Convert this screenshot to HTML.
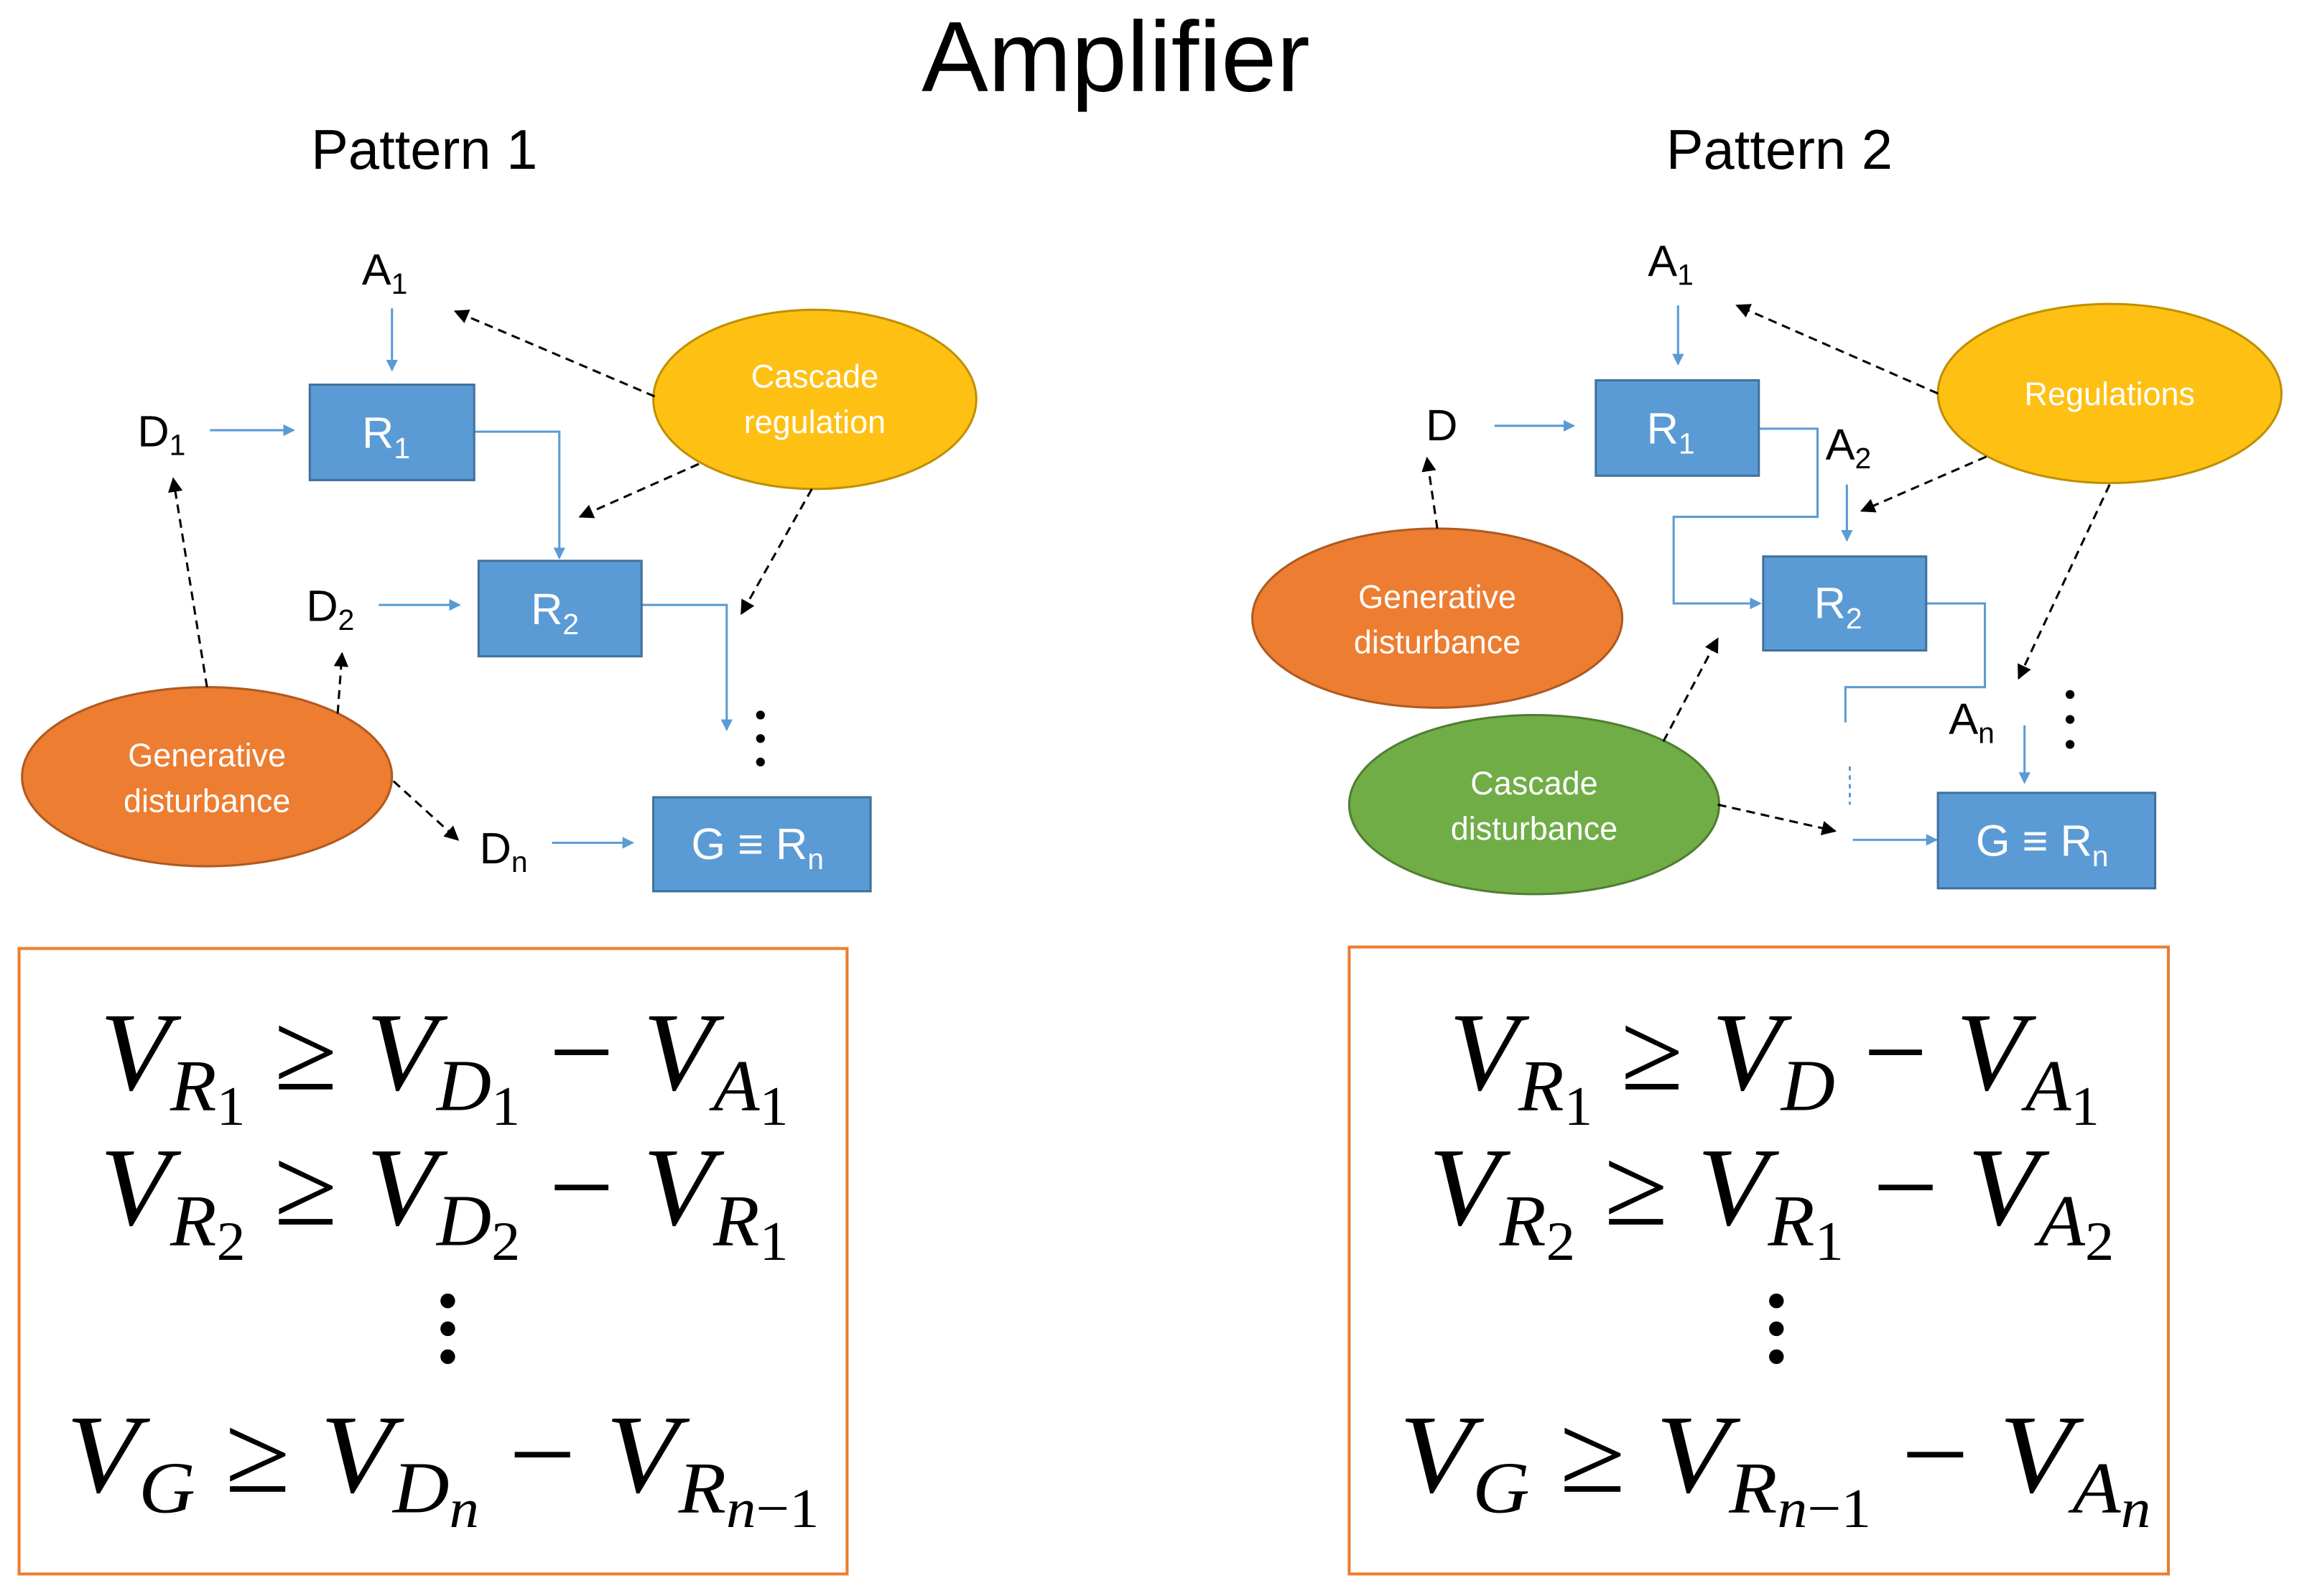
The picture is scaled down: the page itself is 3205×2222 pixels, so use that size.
<!DOCTYPE html>
<html><head><meta charset="utf-8"><style>
html,body{margin:0;padding:0;background:#fff;}
svg{display:block;}
.t{font-family:"Liberation Sans",sans-serif;}
.m{font-family:"Liberation Serif",serif;font-style:italic;}
</style></head><body>
<svg width="3205" height="2222" viewBox="0 0 1568 1087" preserveAspectRatio="none" xmlns="http://www.w3.org/2000/svg">
<defs>
<marker id="bl" markerWidth="8" markerHeight="8" refX="7" refY="4" orient="auto" markerUnits="userSpaceOnUse"><path d="M0,0 L8,4 L0,8 z" fill="#5B9BD5"/></marker>
<marker id="bk" markerWidth="10" markerHeight="10" refX="9" refY="5" orient="auto" markerUnits="userSpaceOnUse"><path d="M0,0 L10,5 L0,10 z" fill="#000"/></marker>
</defs>
<g class="t" text-anchor="middle">
<text x="760" y="62" font-size="68">Amplifier</text>
<text x="289" y="115" font-size="38">Pattern 1</text>
<text x="1212" y="115" font-size="38">Pattern 2</text>
</g>

<!-- LEFT -->
<g fill="none" stroke="#5B9BD5" stroke-width="1.5">
<line x1="267" y1="210" x2="267" y2="252" marker-end="url(#bl)"/>
<line x1="143" y1="293" x2="200" y2="293" marker-end="url(#bl)"/>
<polyline points="323,294 381,294 381,380" marker-end="url(#bl)"/>
<line x1="258" y1="412" x2="313" y2="412" marker-end="url(#bl)"/>
<polyline points="437,412 495,412 495,497" marker-end="url(#bl)"/>
<line x1="376" y1="574" x2="431" y2="574" marker-end="url(#bl)"/>
</g>
<g fill="#5B9BD5" stroke="#41719C" stroke-width="1.5">
<rect x="211" y="262" width="112" height="65"/>
<rect x="326" y="382" width="111" height="65"/>
<rect x="445" y="543" width="148" height="64"/>
</g>
<ellipse cx="555" cy="272" rx="110" ry="61" fill="#FFC014" stroke="#BF9000" stroke-width="1.5"/>
<ellipse cx="141" cy="529" rx="126" ry="61" fill="#ED7D31" stroke="#AE5A21" stroke-width="1.5"/>
<g fill="none" stroke="#000" stroke-width="1.5" stroke-dasharray="6,4">
<line x1="446" y1="270" x2="310" y2="212" marker-end="url(#bk)"/>
<line x1="476" y1="316" x2="395" y2="352" marker-end="url(#bk)"/>
<line x1="553" y1="333" x2="505" y2="418" marker-end="url(#bk)"/>
<line x1="141" y1="468" x2="118" y2="326" marker-end="url(#bk)"/>
<line x1="230" y1="486" x2="233" y2="445" marker-end="url(#bk)"/>
<line x1="268" y1="532" x2="312" y2="572" marker-end="url(#bk)"/>
</g>
<g fill="#000"><circle cx="518" cy="487" r="3"/><circle cx="518" cy="503" r="3"/><circle cx="518" cy="519" r="3"/></g>
<g class="t" font-size="30" text-anchor="middle">
<text x="262" y="194">A<tspan font-size="20" dy="6">1</tspan></text>
<text x="110" y="304">D<tspan font-size="20" dy="6">1</tspan></text>
<text x="225" y="423">D<tspan font-size="20" dy="6">2</tspan></text>
<text x="343" y="588">D<tspan font-size="20" dy="6">n</tspan></text>
<text x="263" y="305" fill="#fff">R<tspan font-size="20" dy="7">1</tspan></text>
<text x="378" y="425" fill="#fff">R<tspan font-size="20" dy="7">2</tspan></text>
<text x="516" y="585" fill="#fff">G ≡ R<tspan font-size="20" dy="7">n</tspan></text>
</g>
<g class="t" font-size="22" fill="#fff" text-anchor="middle">
<text x="555" y="264">Cascade</text><text x="555" y="295">regulation</text>
<text x="141" y="522">Generative</text><text x="141" y="553">disturbance</text>
</g>
<rect x="13" y="646" width="564" height="426" fill="none" stroke="#ED7D31" stroke-width="2"/>
<g class="m" font-size="76">
<text x="68" y="742" textLength="469" lengthAdjust="spacingAndGlyphs">V<tspan font-size="50" dy="14">R</tspan><tspan font-size="38" font-style="normal" dy="10">1</tspan><tspan font-style="normal" dy="-24"> ≥ </tspan>V<tspan font-size="50" dy="14">D</tspan><tspan font-size="38" font-style="normal" dy="10">1</tspan><tspan font-style="normal" dy="-24"> − </tspan>V<tspan font-size="50" dy="14">A</tspan><tspan font-size="38" font-style="normal" dy="10">1</tspan></text>
<text x="68" y="834" textLength="469" lengthAdjust="spacingAndGlyphs">V<tspan font-size="50" dy="14">R</tspan><tspan font-size="38" font-style="normal" dy="10">2</tspan><tspan font-style="normal" dy="-24"> ≥ </tspan>V<tspan font-size="50" dy="14">D</tspan><tspan font-size="38" font-style="normal" dy="10">2</tspan><tspan font-style="normal" dy="-24"> − </tspan>V<tspan font-size="50" dy="14">R</tspan><tspan font-size="38" font-style="normal" dy="10">1</tspan></text>
<text x="45" y="1016" textLength="513" lengthAdjust="spacingAndGlyphs">V<tspan font-size="50" dy="14">G</tspan><tspan font-style="normal" dy="-14"> ≥ </tspan>V<tspan font-size="50" dy="14">D</tspan><tspan font-size="38" dy="10">n</tspan><tspan font-style="normal" dy="-24"> − </tspan>V<tspan font-size="50" dy="14">R</tspan><tspan font-size="38" dy="10">n</tspan><tspan font-size="38" font-style="normal">−1</tspan></text>
</g>
<g fill="#000"><circle cx="305" cy="886" r="5"/><circle cx="305" cy="905" r="5"/><circle cx="305" cy="924" r="5"/></g>

<!-- RIGHT -->
<g fill="none" stroke="#5B9BD5" stroke-width="1.5">
<line x1="1143" y1="208" x2="1143" y2="248" marker-end="url(#bl)"/>
<line x1="1018" y1="290" x2="1072" y2="290" marker-end="url(#bl)"/>
<line x1="1258" y1="330" x2="1258" y2="368" marker-end="url(#bl)"/>
<polyline points="1198,292 1238,292 1238,352 1140,352 1140,411 1199,411" marker-end="url(#bl)"/>
<polyline points="1312,411 1352,411 1352,468 1257,468 1257,492"/>
<line x1="1260" y1="522" x2="1260" y2="548" stroke-dasharray="3,3"/>
<line x1="1262" y1="572" x2="1319" y2="572" marker-end="url(#bl)"/>
<line x1="1379" y1="494" x2="1379" y2="533" marker-end="url(#bl)"/>
</g>
<g fill="#5B9BD5" stroke="#41719C" stroke-width="1.5">
<rect x="1087" y="259" width="111" height="65"/>
<rect x="1201" y="379" width="111" height="64"/>
<rect x="1320" y="540" width="148" height="65"/>
</g>
<ellipse cx="1437" cy="268" rx="117" ry="61" fill="#FFC014" stroke="#BF9000" stroke-width="1.5"/>
<ellipse cx="979" cy="421" rx="126" ry="61" fill="#ED7D31" stroke="#AE5A21" stroke-width="1.5"/>
<ellipse cx="1045" cy="548" rx="126" ry="61" fill="#70AD47" stroke="#507E32" stroke-width="1.5"/>
<g fill="none" stroke="#000" stroke-width="1.5" stroke-dasharray="6,4">
<line x1="1320" y1="268" x2="1183" y2="208" marker-end="url(#bk)"/>
<line x1="1353" y1="311" x2="1268" y2="348" marker-end="url(#bk)"/>
<line x1="1437" y1="330" x2="1375" y2="462" marker-end="url(#bk)"/>
<line x1="979" y1="360" x2="972" y2="312" marker-end="url(#bk)"/>
<line x1="1133" y1="505" x2="1170" y2="435" marker-end="url(#bk)"/>
<line x1="1170" y1="548" x2="1250" y2="566" marker-end="url(#bk)"/>
</g>
<g fill="#000"><circle cx="1410" cy="473" r="3"/><circle cx="1410" cy="490" r="3"/><circle cx="1410" cy="507" r="3"/></g>
<g class="t" font-size="30" text-anchor="middle">
<text x="1138" y="188">A<tspan font-size="20" dy="6">1</tspan></text>
<text x="982" y="300">D</text>
<text x="1259" y="313">A<tspan font-size="20" dy="6">2</tspan></text>
<text x="1343" y="500">A<tspan font-size="20" dy="6">n</tspan></text>
<text x="1138" y="302" fill="#fff">R<tspan font-size="20" dy="7">1</tspan></text>
<text x="1252" y="421" fill="#fff">R<tspan font-size="20" dy="7">2</tspan></text>
<text x="1391" y="583" fill="#fff">G ≡ R<tspan font-size="20" dy="7">n</tspan></text>
</g>
<g class="t" font-size="22" fill="#fff" text-anchor="middle">
<text x="1437" y="276">Regulations</text>
<text x="979" y="414">Generative</text><text x="979" y="445">disturbance</text>
<text x="1045" y="541">Cascade</text><text x="1045" y="572">disturbance</text>
</g>
<rect x="919" y="645" width="558" height="427" fill="none" stroke="#ED7D31" stroke-width="2"/>
<g class="m" font-size="76">
<text x="987" y="742" textLength="443" lengthAdjust="spacingAndGlyphs">V<tspan font-size="50" dy="14">R</tspan><tspan font-size="38" font-style="normal" dy="10">1</tspan><tspan font-style="normal" dy="-24"> ≥ </tspan>V<tspan font-size="50" dy="14">D</tspan><tspan font-style="normal" dy="-14"> − </tspan>V<tspan font-size="50" dy="14">A</tspan><tspan font-size="38" font-style="normal" dy="10">1</tspan></text>
<text x="973" y="834" textLength="467" lengthAdjust="spacingAndGlyphs">V<tspan font-size="50" dy="14">R</tspan><tspan font-size="38" font-style="normal" dy="10">2</tspan><tspan font-style="normal" dy="-24"> ≥ </tspan>V<tspan font-size="50" dy="14">R</tspan><tspan font-size="38" font-style="normal" dy="10">1</tspan><tspan font-style="normal" dy="-24"> − </tspan>V<tspan font-size="50" dy="14">A</tspan><tspan font-size="38" font-style="normal" dy="10">2</tspan></text>
<text x="953" y="1016" textLength="512" lengthAdjust="spacingAndGlyphs">V<tspan font-size="50" dy="14">G</tspan><tspan font-style="normal" dy="-14"> ≥ </tspan>V<tspan font-size="50" dy="14">R</tspan><tspan font-size="38" dy="10">n</tspan><tspan font-size="38" font-style="normal">−1</tspan><tspan font-style="normal" dy="-24"> − </tspan>V<tspan font-size="50" dy="14">A</tspan><tspan font-size="38" dy="10">n</tspan></text>
</g>
<g fill="#000"><circle cx="1210" cy="886" r="5"/><circle cx="1210" cy="905" r="5"/><circle cx="1210" cy="924" r="5"/></g>
</svg>
</body></html>
